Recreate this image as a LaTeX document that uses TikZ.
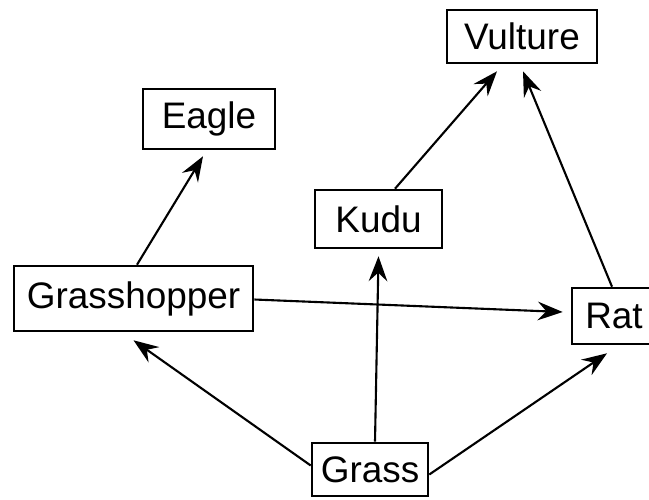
\documentclass[tikz,border=0pt]{standalone}
\usepackage{fontspec}
\setmainfont{Liberation Sans}
\usetikzlibrary{calc,arrows.meta}
\begin{document}
\begin{tikzpicture}[x=0.03cm,y=-0.03cm,
  box/.style={draw, line width=2.2pt, inner sep=0pt, font=\fontsize{31.5}{33}\selectfont},
  arr/.style={line width=1.8pt, -{Stealth[length=7.5mm,width=5.6mm,inset=2.6mm]}}]
\useasboundingbox (0,0) rectangle (649,499);
\clip (0,0) rectangle (649,499);
\node[box, minimum width=4.5cm, minimum height=1.59cm] (vult) at (522,36.5) {Vulture};
\node[box, minimum width=3.96cm, minimum height=1.8cm] (eagle) at (209,119) {Eagle};
\node[box, minimum width=3.81cm, minimum height=1.74cm] (kudu) at (378.5,219) {Kudu};
\node[box, minimum width=7.17cm, minimum height=1.95cm] (gh) at (133.5,298.5) {Grasshopper};
\node[box, minimum width=2.52cm, minimum height=1.68cm] (rat) at (614,316) {Rat};
\node[box, minimum width=3.48cm, minimum height=1.59cm] (grass) at (370,469.5) {Grass};
\draw[arr] ($(gh.north)+(3.5,0)$) -- ($(eagle.south)+(-6,6)$);
\draw[arr] ($(kudu.north)+(16.5,0)$) -- ($(vult.south)+(-25,7)$);
\draw[arr] ($(rat.north)+(-2,0)$) -- ($(vult.south)+(1,7)$);
\draw[arr] ($(gh.east)+(0,1)$) -- ($(rat.west)+(-8,-4)$);
\draw[arr] ($(grass.west)+(0,-4)$) -- ($(gh.south)+(0,8)$);
\draw[arr] ($(grass.north)+(5,0)$) -- ($(kudu.south)+(0,7)$);
\draw[arr] ($(grass.east)+(0,5)$) -- ($(rat.south)+(-7,8)$);
\end{tikzpicture}
\end{document}
